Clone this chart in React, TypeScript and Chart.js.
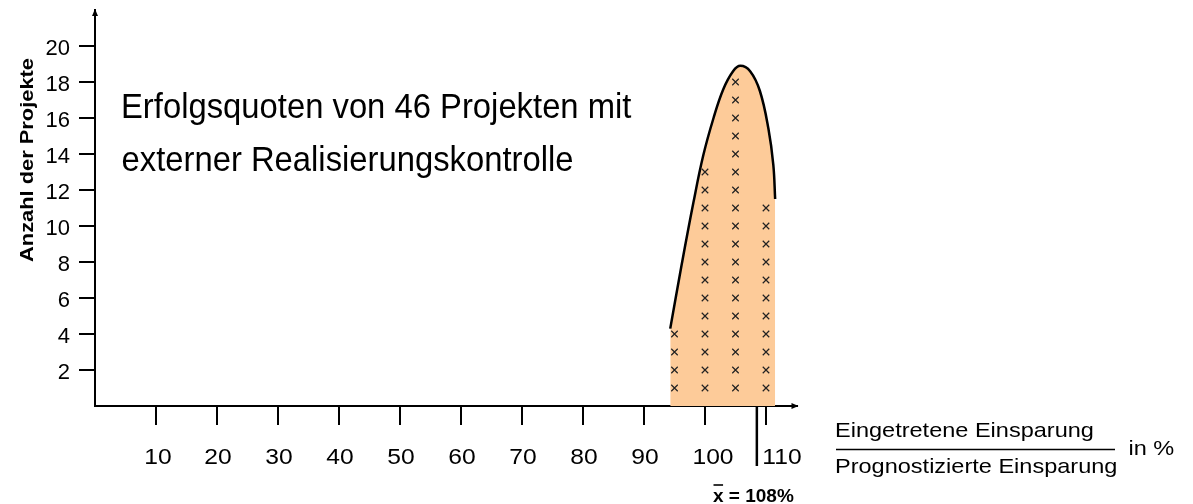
import React, { useEffect, useRef } from "react";
import { Chart, registerables } from "chart.js";

Chart.register(...registerables);

// ---- data ----
const binCenters = [95, 100, 105, 110];
const binCounts = [4, 13, 18, 11];

const curveX = [94.3, 96.2, 98.1, 99.7, 101.4, 103.0, 104.6, 105.8, 107.4, 109.0, 110.4, 111.2, 111.5];
const curveY = [4.3, 7.9, 11.3, 13.9, 16.0, 17.6, 18.6, 18.9, 18.6, 17.5, 15.4, 13.4, 11.5];

const xTickValues = [10, 20, 30, 40, 50, 60, 70, 80, 90, 100, 110];
const xTickLabels = ["10", "20", "30", "40", "50", "60", "70", "80", "90", "100", "110"];
const yTickValues = [2, 4, 6, 8, 10, 12, 14, 16, 18, 20];

const meanLineAt = 108.5;
const meanLabel = "x = 108%";

const titleLines = ["Erfolgsquoten von 46 Projekten mit", "externer Realisierungskontrolle"];
const yAxisTitle = "Anzahl der Projekte";
const fractionTop = "Eingetretene Einsparung";
const fractionBottom = "Prognostizierte Einsparung";
const fractionUnit = "in %";

// ---- styles ----
const FONT = "'Liberation Sans', Arial, Helvetica, sans-serif";
const FILL = "rgb(253, 203, 153)";
const xLabelNudge = [2, 1, 1, 1, 1, 1, 1, 1, 1, 8, 16];

function drawText(
  ctx: CanvasRenderingContext2D,
  s: string,
  x: number,
  y: number,
  size: number,
  sx = 1,
  bold = false,
  align: CanvasTextAlign = "left"
) {
  ctx.save();
  ctx.font = `${bold ? "bold " : ""}${size}px ${FONT}`;
  ctx.fillStyle = "#000";
  ctx.textBaseline = "alphabetic";
  ctx.textAlign = align;
  ctx.translate(x, y);
  ctx.scale(sx, 1);
  ctx.fillText(s, 0, 0);
  ctx.restore();
}

const annotationsPlugin = {
  id: "annotations",
  afterDraw(chart: any) {
    const { ctx, chartArea } = chart;
    const xs = chart.scales.x;
    const x0 = chartArea.left;
    const y0 = chartArea.bottom;
    ctx.save();
    ctx.fillStyle = "#000";
    ctx.strokeStyle = "#000";

    // axis arrowheads
    ctx.beginPath();
    ctx.moveTo(x0, chartArea.top - 1);
    ctx.lineTo(x0 - 3, chartArea.top + 6);
    ctx.lineTo(x0 + 3, chartArea.top + 6);
    ctx.closePath();
    ctx.fill();
    ctx.beginPath();
    ctx.moveTo(chartArea.right + 2, y0);
    ctx.lineTo(chartArea.right - 5, y0 - 3);
    ctx.lineTo(chartArea.right - 5, y0 + 3);
    ctx.closePath();
    ctx.fill();

    // mean line
    const mx = xs.getPixelForValue(meanLineAt);
    ctx.lineWidth = 2.5;
    ctx.beginPath();
    ctx.moveTo(mx, y0);
    ctx.lineTo(mx, y0 + 60);
    ctx.stroke();

    // x tick labels
    xTickValues.forEach((v, i) => {
      drawText(ctx, xTickLabels[i], xs.getPixelForValue(v) + xLabelNudge[i], y0 + 57.5, 22, 1.12, false, "center");
    });

    // title
    drawText(ctx, titleLines[0], 121, 117.5, 35, 0.937);
    drawText(ctx, titleLines[1], 121.5, 171, 35, 0.937);

    // y axis title (rotated)
    ctx.save();
    ctx.translate(33, 160);
    ctx.rotate(-Math.PI / 2);
    drawText(ctx, yAxisTitle, 0, 0, 19, 1.15, true, "center");
    ctx.restore();

    // fraction
    drawText(ctx, fractionTop, 835, 437, 21, 1.12);
    drawText(ctx, fractionBottom, 835, 472.5, 21, 1.12);
    ctx.lineWidth = 1.5;
    ctx.beginPath();
    ctx.moveTo(836, 449.5);
    ctx.lineTo(1115, 449.5);
    ctx.stroke();
    drawText(ctx, fractionUnit, 1128.5, 455, 21, 1.12);

    // mean label with overline on x
    const lx = 713;
    const ly = 501.5;
    drawText(ctx, meanLabel, lx, ly, 19, 1, true);
    ctx.font = `bold 19px ${FONT}`;
    const wx = ctx.measureText("x").width;
    ctx.lineWidth = 1.6;
    ctx.beginPath();
    ctx.moveTo(lx + 0.5, ly - 16.5);
    ctx.lineTo(lx + wx - 0.5, ly - 16.5);
    ctx.stroke();

    ctx.restore();
  },
};

export default function App() {
  const ref = useRef<HTMLCanvasElement | null>(null);

  useEffect(() => {
    if (!ref.current) return;
    const markPoints = binCenters.flatMap((c, i) =>
      Array.from({ length: binCounts[i] }, (_, k) => ({ x: c, y: k + 1 }))
    );
    const curve = curveX.map((x, i) => ({ x, y: curveY[i] }));

    const chart = new Chart(ref.current, {
      type: "scatter",
      data: {
        datasets: [
          {
            type: "line",
            data: curve,
            borderColor: "#000",
            borderWidth: 2.5,
            backgroundColor: FILL,
            fill: "origin",
            pointRadius: 0,
            tension: 0.4,
            order: 2,
          } as any,
          {
            type: "scatter",
            data: markPoints,
            pointStyle: "crossRot",
            pointRadius: 4.6,
            borderColor: "#222",
            borderWidth: 1.2,
            order: 1,
          } as any,
        ],
      },
      options: {
        animation: false,
        responsive: true,
        maintainAspectRatio: false,
        events: [],
        layout: { padding: { left: 0, right: 396.5, top: 10, bottom: 0 } },
        plugins: { legend: { display: false }, tooltip: { enabled: false }, title: { display: false } },
        scales: {
          x: {
            type: "linear",
            min: 0,
            max: 115,
            afterFit: (s: any) => {
              s.height = 98;
              s.paddingLeft = 0;
              s.paddingRight = 0;
              s.paddingTop = 0;
              s.paddingBottom = 0;
            },
            afterBuildTicks: (s: any) => {
              s.ticks = xTickValues.map((v) => ({ value: v }));
            },
            grid: {
              drawOnChartArea: false,
              drawTicks: true,
              tickLength: 19,
              color: "#000",
              tickColor: "#000",
              lineWidth: 2,
              tickWidth: 2,
            },
            border: { display: true, color: "#000", width: 2 },
            ticks: { display: false },
          },
          y: {
            type: "linear",
            min: 0,
            max: 22,
            afterFit: (s: any) => {
              s.width = 95;
              s.paddingLeft = 0;
              s.paddingRight = 0;
              s.paddingTop = 0;
              s.paddingBottom = 0;
            },
            afterBuildTicks: (s: any) => {
              s.ticks = yTickValues.map((v) => ({ value: v }));
            },
            grid: {
              drawOnChartArea: false,
              drawTicks: true,
              tickLength: 16,
              color: "#000",
              tickColor: "#000",
              lineWidth: 2,
              tickWidth: 2,
            },
            border: { display: true, color: "#000", width: 2 },
            ticks: {
              color: "#000",
              font: { family: FONT, size: 22 },
              padding: 9,
              labelOffset: 3,
            },
          },
        },
      } as any,
      plugins: [annotationsPlugin],
    });
    return () => chart.destroy();
  }, []);

  return (
    <div style={{ position: "absolute", left: 0, top: 0, width: 1193, height: 504, background: "#fff" }}>
      <canvas ref={ref} />
    </div>
  );
}
